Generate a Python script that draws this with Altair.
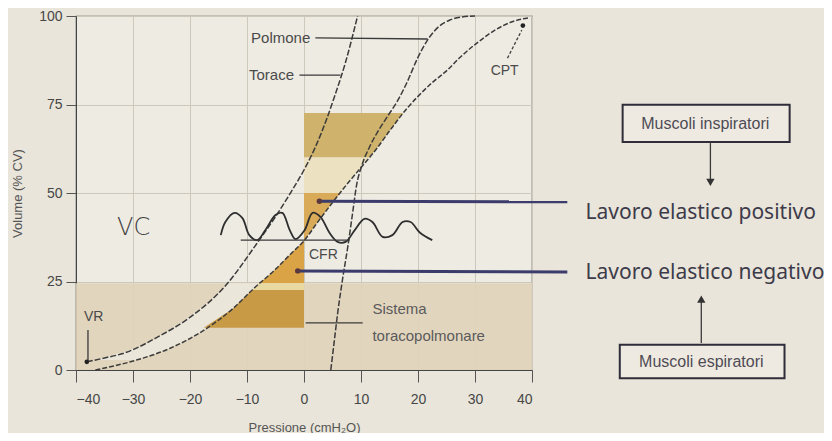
import altair as alt
import pandas as pd

# ---------------- data ----------------
# Torace (chest wall) curve: pressure (cmH2O), volume (% CV)
torace_p = [-38.1, -35.0, -31.5, -25.7, -19.9, -14.0, -8.2, -4.6, -2.0, 0.0, 2.0, 4.0, 5.3, 7.3, 9.4]
torace_v = [2.3, 3.4, 4.8, 9.3, 15.0, 23.4, 35.9, 44.3, 51.0, 56.5, 63.0, 71.0, 77.0, 87.0, 100.0]

# Polmone (lung) curve
polmone_p = [4.7, 5.3, 5.9, 6.8, 7.7, 8.5, 9.2, 10.2, 11.5, 13.0, 14.8, 16.4, 18.0, 19.9, 21.8, 23.5, 25.5, 27.6, 30.0]
polmone_v = [0.0, 8.0, 16.0, 26.0, 35.0, 44.0, 52.0, 58.0, 63.0, 67.5, 72.0, 76.0, 81.0, 88.0, 93.5, 96.8, 98.8, 99.7, 100.0]

# Sistema toracopolmonare (respiratory system) curve
sistema_p = [-36.6, -29.4, -23.4, -17.8, -12.5, -8.7, -5.3, -2.2, 0.0, 2.5, 5.0, 7.5, 10.0, 12.5, 15.0,
             17.8, 20.0, 22.5, 24.8, 27.5, 30.6, 33.5, 36.4, 39.4]
sistema_v = [0.0, 2.8, 6.2, 11.0, 17.3, 23.2, 28.0, 33.0, 36.5, 42.0, 47.3, 52.4, 57.2, 62.0, 67.5,
             73.4, 77.3, 81.2, 84.2, 88.5, 92.7, 96.0, 98.3, 99.5]

# light gap between chest-wall and system curves inside the tan band
gap_v = [2.8, 6.2, 11.0, 17.3, 23.2, 24.5]
gap_p_left = [-36.8, -29.5, -24.0, -18.3, -14.1, -13.6]
gap_p_right = [-29.4, -23.4, -17.8, -12.5, -8.7, -8.0]

# shaded work areas: (volume, pressure of the system curve), bounded by P = 0
band_c_v = [60.0, 62.0, 67.5, 72.6]      # upper band (positive work)
band_c_p = [11.4, 12.5, 15.0, 17.4]
band_b_v = [50.0, 52.4, 57.2, 60.0]      # light strip
band_b_p = [6.4, 7.5, 10.0, 11.4]
band_a_v = [36.5, 42.0, 47.3, 50.0]      # positive work above CFR
band_a_p = [0.0, 2.5, 5.0, 6.4]
band_e_v = [24.6, 28.0, 33.0, 36.5]      # negative work below CFR
band_e_p = [-7.8, -5.3, -2.2, 0.0]
band_s_v = [22.6, 24.6]                  # light strip
band_s_p = [-9.1, -7.8]
band_d_v = [11.9, 17.3, 22.6]            # lower negative band
band_d_p = [-17.6, -12.5, -9.1]

# hand-drawn tidal breathing wave
wave_p = [-14.6, -13.8, -12.2, -10.8, -9.6, -8.2, -6.8, -5.0, -3.8, -2.5, -1.5, 0.1, 1.5, 2.9, 4.5,
          5.9, 7.3, 8.9, 10.6, 12.0, 13.8, 15.5, 17.3, 18.7, 20.4, 22.5]
wave_v = [38.1, 41.8, 44.4, 42.9, 38.1, 36.7, 39.5, 43.8, 44.4, 39.5, 37.0, 39.5, 44.4, 43.2, 38.7,
          36.2, 36.2, 39.5, 42.7, 41.8, 37.6, 38.1, 41.8, 41.8, 38.7, 36.7]

x_ticks = [-40, -30, -20, -10, 0, 10, 20, 30, 40]
y_ticks = [0, 25, 50, 75, 100]

# labels (text, pressure, volume)
curve_labels = [("Polmone", -4.1, 93.8), ("Torace", -5.7, 83.3)]
point_labels = [("CPT", 35.2, 84.5), ("VR", -36.9, 15.0), ("CFR", 3.4, 32.5)]
sistema_label = [("Sistema", 12.0, 17.2), ("toracopolmonare", 12.0, 9.6)]
big_labels = [("Lavoro elastico positivo", 49.4, 44.4), ("Lavoro elastico negativo", 49.4, 27.5)]
box_labels = [("Muscoli inspiratori", 70.4, 69.6), ("Muscoli espiratori", 69.7, 2.4)]
boxes = [(55.9, 85.2, 64.4, 74.9), (55.4, 84.3, -2.3, 7.1)]

# thin black leader lines (p1, p2, v1, v2)
leaders = [(2.0, 21.7, 93.8, 93.5), (-0.8, 6.4, 83.3, 83.3), (-37.9, -37.9, 11.3, 2.8),
           (0.3, 10.3, 13.3, 13.3), (-11.1, 8.0, 36.7, 36.7), (71.3, 71.3, 64.1, 53.5), (69.7, 69.7, 7.6, 19.5)]
cpt_leader = [(35.7, 38.2, 88.1, 96.0)]
navy_leaders = [(2.7, 46.2, 47.7, 47.5), (-1.1, 46.2, 28.0, 27.7)]
dots = [(-38.1, 2.3), (38.4, 97.3)]
arrow_down = [(71.3, 53.0)]
arrow_up = [(69.7, 20.0)]

# ---------------- chart ----------------
FONT = "Liberation Sans"
xs = alt.Scale(domain=[-40, 40], nice=False, zero=False)
ys = alt.Scale(domain=[0, 100], nice=False, zero=False)
xaxis = alt.Axis(values=x_ticks, format="d", tickSize=12, labelPadding=10, labelFontSize=14,
                 labelColor="#474747", tickColor="#555555", domainColor="#444444", titleFontSize=13,
                 titleColor="#555555", titleFontWeight="normal", titlePadding=15, gridColor="#cdc8bc",
                 labelFont=FONT, titleFont=FONT)
yaxis = alt.Axis(values=y_ticks, tickSize=10, labelPadding=4, labelFontSize=14, labelColor="#474747",
                 tickColor="#555555", domainColor="#444444", titleFontSize=13, titleColor="#555555",
                 titleFontWeight="normal", titlePadding=14, gridColor="#cdc8bc", labelFont=FONT, titleFont=FONT)


def X(f="p"):
    return alt.X(f"{f}:Q", scale=xs, axis=xaxis, title="Pressione (cmH₂O)")


def Y(f="v"):
    return alt.Y(f"{f}:Q", scale=ys, axis=yaxis, title="Volume (% CV)")


def curve_df(ps, vs):
    return pd.DataFrame({"p": ps, "v": vs, "i": range(len(ps))})


def text_layer(rows, **kw):
    d = pd.DataFrame(rows, columns=["t", "p", "v"])
    return alt.Chart(d).mark_text(**kw).encode(x=X(), y=Y(), text="t:N")


layers = []

# tan band in the lower part of the plot
tan = pd.DataFrame({"p": [-40], "p2": [40], "v": [0], "v2": [24.5]})
layers.append(alt.Chart(tan).mark_rect(color="#e0d3b9", opacity=0.9).encode(
    x=X(), x2="p2:Q", y=Y(), y2="v2:Q"))

# light gap between the curves
gd = pd.DataFrame({"v": gap_v, "p": gap_p_left, "p2": gap_p_right})
layers.append(alt.Chart(gd).mark_area(orient="horizontal", color="#ebe6da", opacity=1,
                                      interpolate="monotone").encode(y=Y(), x=X(), x2="p2:Q"))

# shaded regions
for vs, ps, col in [(band_c_v, band_c_p, "#cfb26c"), (band_b_v, band_b_p, "#ece2c2"),
                    (band_a_v, band_a_p, "#d9aa58"), (band_e_v, band_e_p, "#daa446"),
                    (band_s_v, band_s_p, "#e8d9a2"), (band_d_v, band_d_p, "#c99a46")]:
    d = pd.DataFrame({"v": vs, "p": ps, "p2": [0.0] * len(vs)})
    layers.append(alt.Chart(d).mark_area(orient="horizontal", color=col, opacity=1).encode(
        y=Y(), x=X(), x2="p2:Q"))

# curves
for ps, vs, dash in [(torace_p, torace_v, [6, 2]), (polmone_p, polmone_v, [6, 2]), (sistema_p, sistema_v, [5, 2])]:
    layers.append(alt.Chart(curve_df(ps, vs)).mark_line(
        color="#3b3b3b", strokeWidth=1.5, strokeDash=dash, interpolate="monotone").encode(
        x=X(), y=Y(), order="i:Q"))

# hand-drawn wave
layers.append(alt.Chart(curve_df(wave_p, wave_v)).mark_line(
    color="#2e2e2e", strokeWidth=1.8, interpolate="catmull-rom").encode(x=X(), y=Y(), order="i:Q"))

# leader lines
ld = pd.DataFrame(leaders, columns=["p", "p2", "v", "v2"])
layers.append(alt.Chart(ld).mark_rule(color="#3a3a3a", strokeWidth=1.3).encode(
    x=X(), x2="p2:Q", y=Y(), y2="v2:Q"))
cl = pd.DataFrame(cpt_leader, columns=["p", "p2", "v", "v2"])
layers.append(alt.Chart(cl).mark_rule(color="#3a3a3a", strokeWidth=1.3, strokeDash=[3, 2]).encode(
    x=X(), x2="p2:Q", y=Y(), y2="v2:Q"))
nl = pd.DataFrame(navy_leaders, columns=["p", "p2", "v", "v2"])
layers.append(alt.Chart(nl).mark_rule(color="#3c3c6c", strokeWidth=3).encode(
    x=X(), x2="p2:Q", y=Y(), y2="v2:Q"))
nd = pd.DataFrame([(r[0], r[2]) for r in navy_leaders], columns=["p", "v"])
layers.append(alt.Chart(nd).mark_point(filled=True, color="#5a3840", size=30, opacity=1).encode(x=X(), y=Y()))
dd = pd.DataFrame(dots, columns=["p", "v"])
layers.append(alt.Chart(dd).mark_point(filled=True, color="#222222", size=22, opacity=1).encode(x=X(), y=Y()))

# boxes
bx = pd.DataFrame(boxes, columns=["p", "p2", "v", "v2"])
layers.append(alt.Chart(bx).mark_rect(fill="#eeeae1", stroke="#2f2d3a", strokeWidth=2).encode(
    x=X(), x2="p2:Q", y=Y(), y2="v2:Q"))

# arrow heads
layers.append(alt.Chart(pd.DataFrame(arrow_down, columns=["p", "v"])).mark_point(
    shape="triangle-down", filled=True, color="#333333", size=70, opacity=1).encode(x=X(), y=Y()))
layers.append(alt.Chart(pd.DataFrame(arrow_up, columns=["p", "v"])).mark_point(
    shape="triangle-up", filled=True, color="#333333", size=70, opacity=1).encode(x=X(), y=Y()))

# texts
layers.append(text_layer(curve_labels, font=FONT, fontSize=15, color="#4a4a4a"))
layers.append(text_layer(point_labels, font=FONT, fontSize=14, color="#4a4a4a"))
layers.append(text_layer(sistema_label, font=FONT, fontSize=15, color="#5a5a5a", align="left"))
layers.append(text_layer(big_labels, font="Noto Sans", fontSize=21, color="#3d3b4a", align="left"))
layers.append(text_layer(box_labels, font=FONT, fontSize=16, color="#4e4a55"))
layers.append(text_layer([("VC", -29.9, 40.1)], font="DejaVu Sans", fontSize=24, color="#404040",
                         fontWeight=300))

chart = alt.layer(*layers).properties(
    width=456, height=354,
    autosize=alt.AutoSizeParams(type="none"),
    padding={"left": 68, "top": 8, "right": 292, "bottom": 63},
    background="#e9e5da",
).configure_view(fill="#eeebe3", stroke="#555555", strokeWidth=1.2).configure_axis(grid=True)

chart.save("out.html", embed_options={"renderer": "svg", "actions": False})
